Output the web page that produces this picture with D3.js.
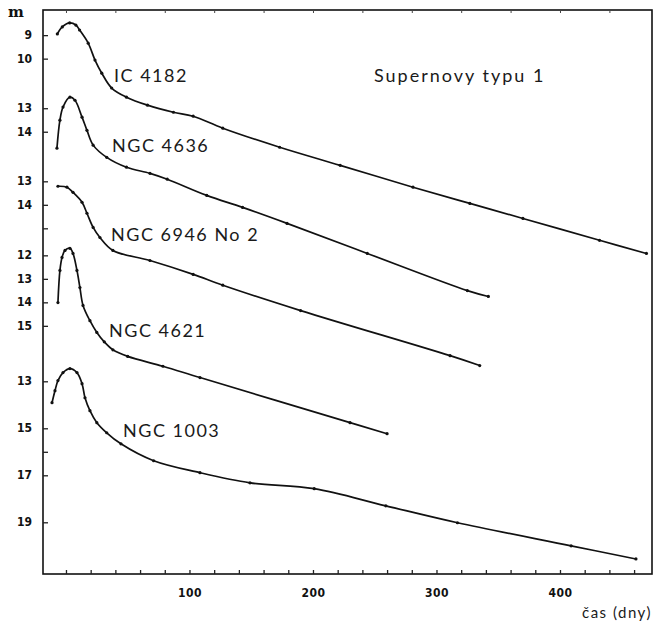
<!DOCTYPE html>
<html>
<head>
<meta charset="utf-8">
<script src="https://cdn.jsdelivr.net/npm/d3@7"></script>
<style>
  html, body { margin: 0; padding: 0; background: #fff; }
  svg { display: block; }
</style>
</head>
<body>
<div class="chart"></div>
<script>
// supernova light curves (days after maximum, magnitude)
const curveNames = ["IC 4182", "NGC 4636", "NGC 6946 No 2", "NGC 4621", "NGC 1003"]

const ic4182Days = [-7, -3, 3, 8, 11, 18, 23.5, 29, 37, 49, 66, 87, 103, 127, 173, 222, 281, 327, 370, 432, 470]
const ic4182Mag = [8.95, 8.65, 8.48, 8.57, 8.78, 9.34, 10.06, 10.62, 11.25, 11.64, 11.98, 12.28, 12.45, 12.96, 13.77, 14.54, 15.47, 16.16, 16.80, 17.73, 18.29]

const ngc4636Days = [-7.3, -4.9, -2.4, 3.2, 7.3, 13, 17, 22, 33, 49, 68, 82, 114, 143, 179, 244, 325, 342]
const ngc4636Mag = [14.70, 13.51, 12.95, 12.53, 12.66, 13.38, 13.94, 14.57, 15.09, 15.51, 15.77, 16.02, 16.71, 17.22, 17.90, 19.18, 20.76, 21.01]

const ngc6946Days = [-6.5, 0.8, 5.7, 13, 17, 22, 27.5, 38, 68, 103, 127, 190, 311, 335]
const ngc6946Mag = [13.21, 13.25, 13.47, 13.89, 14.36, 14.96, 15.39, 15.94, 16.37, 16.96, 17.42, 18.50, 20.42, 20.84]

const ngc4621Days = [-6.5, -4.9, -3.2, -0.8, 3.2, 5.7, 8.9, 11.3, 13.8, 19.4, 25, 31, 38, 50, 78.5, 108.5, 230, 260]
const ngc4621Mag = [14.01, 12.64, 12.09, 11.79, 11.70, 11.92, 12.64, 13.37, 14.13, 14.78, 15.28, 15.68, 16.02, 16.30, 16.72, 17.20, 19.12, 19.59]

const ngc1003Days = [-11.3, -8.9, -6.5, -2.4, 3.2, 8.9, 13, 15.4, 19.4, 25, 33, 44.5, 71, 108.5, 149, 201, 259, 317, 409, 461.5]
const ngc1003Mag = [13.91, 13.40, 12.97, 12.63, 12.46, 12.63, 13.10, 13.70, 14.25, 14.76, 15.19, 15.66, 16.38, 16.89, 17.32, 17.57, 18.30, 19.02, 20.00, 20.56]

// magnitude ticks for every curve, and which of them carry a label
const magTicks = [[9, 10], [13, 14], [13, 14, 15], [12, 13, 14, 15], [13, 15, 16, 17, 19]]
const magLabels = [[9, 10], [13, 14], [13, 14], [12, 13, 14, 15], [13, 15, 17, 19]]
const dayTicks = [100, 200, 300, 400]

let curveDays = [ic4182Days, ngc4636Days, ngc6946Days, ngc4621Days, ngc1003Days]
let curveMag = [ic4182Mag, ngc4636Mag, ngc6946Mag, ngc4621Mag, ngc1003Mag]

// layout
let width = 655, height = 632
let mLeft = 43, mRight = 652, mTop = 10, mBottom = 574
// each curve is shifted vertically (in magnitudes) so they stack
let stackShift = [-7.93, -8.82, -5.71, -1.56, 2.80]
let labelPos = [[114, 82], [112, 152], [111, 241], [109, 337], [123, 437]]

let svg = d3.select(".chart")
  .append("svg")
  .attr("width", width)
  .attr("height", height)

let x = d3.scaleLinear().domain([-18.6, 474.5]).range([mLeft, mRight])
let yScales = stackShift.map((s) => d3.scaleLinear()
  .domain([0 - s, 24 - s])
  .range([mTop, mBottom]))

// frame
svg.append("rect")
  .attr("x", mLeft)
  .attr("y", mTop)
  .attr("width", mRight - mLeft)
  .attr("height", mBottom - mTop)
  .attr("fill", "none")
  .attr("stroke", "#111")
  .attr("stroke-width", 1.6)

// x axis: minor ticks every 20 days, labels every 100
let xAxis = d3.axisBottom(x)
  .tickValues(d3.range(0, 470, 20))
  .tickSize(-4)
  .tickFormat((d) => dayTicks.includes(d) ? d : "")
svg.append("g")
  .attr("transform", `translate(0,${mBottom})`)
  .call(xAxis)
  .call((g) => g.select(".domain").remove())
  .call((g) => g.selectAll("line").attr("stroke", "#222").attr("stroke-width", 1.3))
  .call((g) => g.selectAll("text")
    .attr("y", 14)
    .attr("fill", "#111")
    .attr("font-family", "DejaVu Sans Condensed, DejaVu Sans, sans-serif")
    .attr("font-weight", "bold")
    .attr("font-size", 12)
    .attr("letter-spacing", 0.5))

// faint ticks along top border
svg.append("g")
  .attr("transform", `translate(0,${mTop})`)
  .call(d3.axisTop(x).tickValues(d3.range(0, 470, 40)).tickSize(-3).tickFormat(""))
  .call((g) => g.select(".domain").remove())
  .call((g) => g.selectAll("line").attr("stroke", "#444"))

// y ticks for each curve
magTicks.forEach((ticks, i) => {
  let yAxis = d3.axisRight(yScales[i])
    .tickValues(ticks)
    .tickSize(5)
    .tickFormat("")
  svg.append("g")
    .attr("transform", `translate(${mLeft},0)`)
    .call(yAxis)
    .call((g) => g.select(".domain").remove())
    .call((g) => g.selectAll("line").attr("stroke", "#222").attr("stroke-width", 1.3))
  svg.append("g")
    .selectAll("text")
    .data(magLabels[i])
    .enter()
    .append("text")
    .attr("x", 32)
    .attr("y", (d) => yScales[i](d) + 4)
    .attr("text-anchor", "end")
    .attr("font-family", "Liberation Sans Narrow, DejaVu Sans Condensed, sans-serif")
    .attr("font-weight", "bold")
    .attr("font-size", 12)
    .attr("fill", "#111")
    .text((d) => d)
})

svg.append("text")
  .attr("x", 8)
  .attr("y", 17)
  .attr("font-family", "DejaVu Serif, serif")
  .attr("font-weight", "bold")
  .attr("font-size", 15)
  .attr("fill", "#111")
  .text("m")

// light curves
curveNames.forEach((name, i) => {
  let points = curveDays[i].map((d, j) => ({ day: d, mag: curveMag[i][j] }))
  let line = d3.line()
    .x((d) => x(d.day))
    .y((d) => yScales[i](d.mag))
    .curve(d3.curveCatmullRom.alpha(0.5))
  svg.append("path")
    .datum(points)
    .attr("d", line)
    .attr("fill", "none")
    .attr("stroke", "#111")
    .attr("stroke-width", 1.7)
  svg.append("g")
    .selectAll("circle")
    .data(points)
    .enter()
    .append("circle")
    .attr("cx", (d) => x(d.day))
    .attr("cy", (d) => yScales[i](d.mag))
    .attr("r", 1.6)
    .attr("fill", "#111")
  svg.append("text")
    .attr("x", labelPos[i][0])
    .attr("y", labelPos[i][1])
    .attr("font-family", "Lato, Open Sans, sans-serif")
    .attr("font-size", 18)
    .attr("letter-spacing", 1.5)
    .attr("fill", "#1a1a1a")
    .text(name)
})

svg.append("text")
  .attr("x", 374)
  .attr("y", 82)
  .attr("font-family", "Lato, Open Sans, sans-serif")
  .attr("font-size", 18)
  .attr("letter-spacing", 2)
  .attr("fill", "#1a1a1a")
  .text("Supernovy typu 1")

svg.append("text")
  .attr("x", 652)
  .attr("y", 618)
  .attr("text-anchor", "end")
  .attr("font-family", "Lato, Open Sans, sans-serif")
  .attr("font-size", 15)
  .attr("letter-spacing", 1.5)
  .attr("fill", "#1a1a1a")
  .text("čas (dny)")
</script>
</body>
</html>
